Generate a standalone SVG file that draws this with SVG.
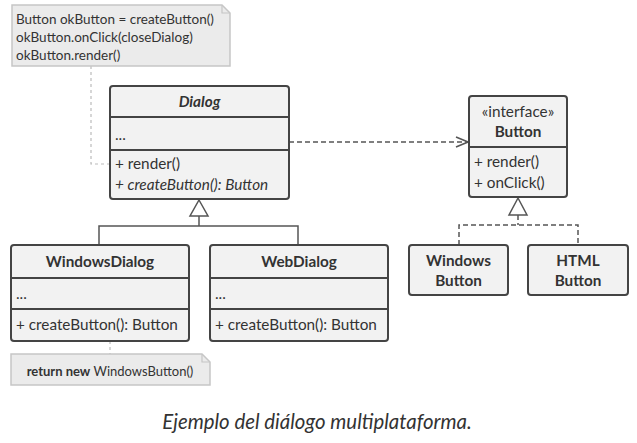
<svg xmlns="http://www.w3.org/2000/svg" width="637" height="443" viewBox="0 0 637 443">
<defs>
<style>
.box{fill:#f2f2f2;stroke:#444;stroke-width:2}
.div{stroke:#444;stroke-width:2;fill:none}
.note{fill:#ebebeb;stroke:#c6c6c6;stroke-width:1.5}
.t{font-family:Lato,"Open Sans","Liberation Sans",sans-serif;font-size:15.3px;fill:#333}
.n{font-size:13.5px}
.b{font-weight:bold}
.i{font-style:italic}
.c{text-anchor:middle}
.line{stroke:#555;stroke-width:1.5;fill:none}
.dash{stroke:#555;stroke-width:1.5;fill:none;stroke-dasharray:5,3}
.dot{stroke:#bbb;stroke-width:1.2;fill:none;stroke-dasharray:3,3}
</style>
<marker id="open" markerWidth="14" markerHeight="12" refX="13" refY="6" orient="auto" markerUnits="userSpaceOnUse">
<path d="M1,1 L13,6 L1,11" fill="none" stroke="#555" stroke-width="1.5"/>
</marker>
</defs>
<rect width="637" height="443" fill="#fff"/>

<g id="connectors">
<path class="dot" d="M91,66 V164 H110"/>
<path class="dot" d="M110,341 V354"/>
<path class="dash" d="M289,142 H468" marker-end="url(#open)"/>
<path class="line" d="M199,216 V226 M99,245 V226 H298 V245"/>
<path class="dash" d="M518,215 V225 M459,245 V225 H578 V245"/>
<path d="M199,200 L208,216 L190,216 Z" fill="#fff" stroke="#555" stroke-width="1.5"/>
<path d="M518,198 L527,215 L509,215 Z" fill="#fff" stroke="#555" stroke-width="1.5"/>
</g>

<g id="note1">
<path class="note" d="M12,5 H222 L230,13 V66 H12 Z"/>
<path d="M222,5 V13 H230" fill="none" stroke="#c6c6c6" stroke-width="1.2"/>
<text class="t n" x="16" y="24">Button okButton = createButton()</text>
<text class="t n" x="16" y="42">okButton.onClick(closeDialog)</text>
<text class="t n" x="16" y="60">okButton.render()</text>
</g>

<g id="dialog">
<rect class="box" x="110" y="86" width="179" height="113" rx="3"/>
<path class="div" d="M110,117 H289 M110,150 H289"/>
<text class="t b i c" x="199.5" y="107">Dialog</text>
<text class="t" x="115" y="140">...</text>
<text class="t" x="115" y="169">+ render()</text>
<text class="t i" x="115" y="190">+ createButton(): Button</text>
</g>

<g id="button">
<rect class="box" x="469" y="96" width="98" height="101" rx="3"/>
<path class="div" d="M469,147 H567"/>
<text class="t c" x="518" y="117">«interface»</text>
<text class="t b c" x="518" y="137">Button</text>
<text class="t" x="474" y="167">+ render()</text>
<text class="t" x="474" y="188">+ onClick()</text>
</g>

<g id="windowsDialog">
<rect class="box" x="11" y="245" width="178" height="96" rx="3"/>
<path class="div" d="M11,278 H189 M11,309 H189"/>
<text class="t b c" x="100" y="267">WindowsDialog</text>
<text class="t" x="16" y="299">...</text>
<text class="t" x="16" y="330">+ createButton(): Button</text>
</g>

<g id="webDialog">
<rect class="box" x="210" y="245" width="178" height="96" rx="3"/>
<path class="div" d="M210,278 H388 M210,309 H388"/>
<text class="t b c" x="299" y="267">WebDialog</text>
<text class="t" x="215" y="299">...</text>
<text class="t" x="215" y="330">+ createButton(): Button</text>
</g>

<g id="windowsButton">
<rect class="box" x="409" y="245" width="99" height="50" rx="3"/>
<text class="t b c" x="458.5" y="266">Windows</text>
<text class="t b c" x="458.5" y="286">Button</text>
</g>

<g id="htmlButton">
<rect class="box" x="528" y="245" width="100" height="50" rx="3"/>
<text class="t b c" x="578" y="266">HTML</text>
<text class="t b c" x="578" y="286">Button</text>
</g>

<g id="note2">
<path class="note" d="M11,354 H202 L210,362 V385 H11 Z"/>
<path d="M202,354 V362 H210" fill="none" stroke="#c6c6c6" stroke-width="1.2"/>
<text class="t c" x="110" y="376" style="font-size:13px"><tspan class="b">return new</tspan> WindowsButton()</text>
</g>

<text class="i c" x="317" y="429" style="font-family:Lato,'Open Sans','Liberation Sans',sans-serif;font-size:20.4px;fill:#333">Ejemplo del diálogo multiplataforma.</text>
</svg>
